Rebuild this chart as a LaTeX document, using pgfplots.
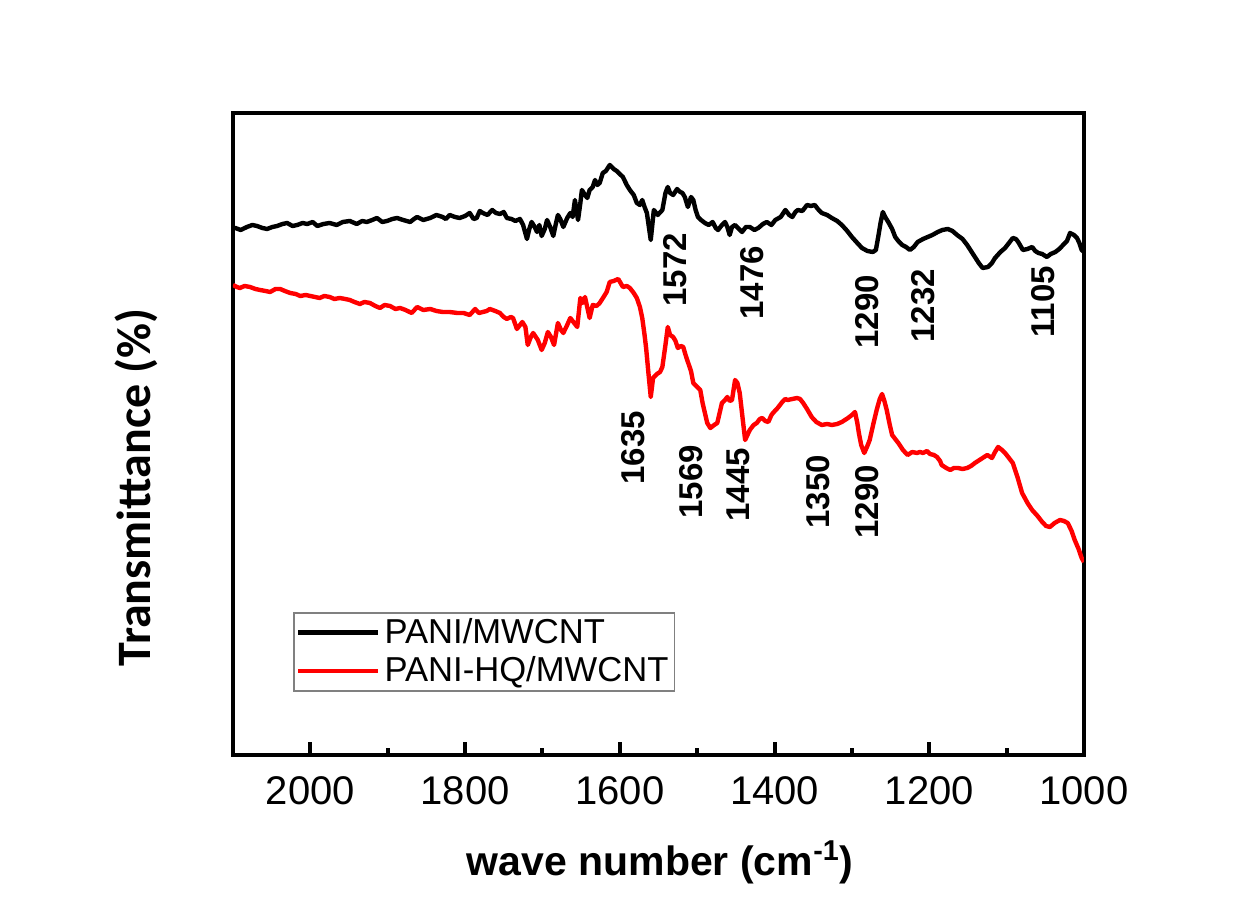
\documentclass[border=0pt]{standalone}
\usepackage{pgfplots}
\pgfplotsset{compat=1.18}
\usepackage{fontspec}
\setmainfont{Liberation Sans}
\newfontfamily\calibri{Carlito}

% FTIR spectra (transmittance, arbitrary offset units)
\pgfplotstableread{
wn y
2100 527
2097 527
2090 525
2082 528
2075 530
2069 529
2062 527
2056 526
2049 528
2043 529
2036 531
2030 532
2023 529
2017 530
2010 532
2004 531
1997 533
1991 529
1983 531
1975 532
1966 530
1958 533
1949 534
1940 531
1933 534
1927 533
1920 535
1914 537
1907 533
1901 534
1894 536
1888 537
1880 535
1871 533
1866 536
1862 538
1854 535
1845 537
1837 540
1829 538
1825 536
1820 540
1813 538
1807 537
1800 539
1794 542
1789 536
1785 537
1781 544
1777 542
1771 540
1765 545
1760 542
1755 541
1750 543
1746 537
1740 536
1735 534
1729 536
1725 530
1720 516
1717 526
1714 533
1710 528
1707 523
1704 530
1701 519
1697 526
1694 535
1690 528
1686 519
1683 530
1680 540
1677 536
1673 528
1668 537
1664 542
1661 538
1658 555
1654 535
1651 552
1649 565
1645 560
1642 557
1639 565
1635 568
1632 575
1629 570
1626 572
1622 582
1618 584
1613 590
1608 586
1604 584
1600 581
1596 578
1591 570
1587 565
1582 560
1578 552
1574 550
1571 555
1568 548
1565 542
1560 515
1556 545
1551 540
1545 545
1541 562
1538 568
1535 562
1531 560
1526 566
1522 563
1519 562
1516 558
1512 548
1508 558
1505 555
1502 545
1499 538
1495 535
1490 532
1485 530
1480 533
1476 527
1473 525
1468 530
1464 533
1461 528
1458 520
1455 528
1451 530
1446 526
1442 523
1437 528
1432 528
1426 525
1421 527
1415 531
1410 533
1404 530
1399 535
1392 538
1386 545
1381 540
1377 538
1373 543
1370 545
1364 544
1358 550
1353 549
1348 550
1344 546
1339 542
1332 540
1326 537
1319 534
1313 530
1306 524
1300 518
1293 512
1287 507
1280 504
1273 503
1269 505
1266 518
1263 532
1260 543
1257 538
1253 533
1248 526
1244 518
1240 514
1235 510
1230 508
1225 505
1220 508
1215 513
1208 516
1202 518
1196 520
1189 523
1183 525
1176 526
1170 524
1164 520
1157 516
1151 510
1146 504
1141 498
1136 492
1131 487
1124 488
1119 492
1115 497
1108 503
1102 507
1097 512
1092 517
1088 516
1085 513
1079 505
1073 506
1067 508
1063 504
1059 502
1054 501
1048 498
1043 501
1037 503
1032 506
1027 510
1022 514
1018 522
1013 520
1009 517
1006 512
1003 505
1000 503
}\pani

\pgfplotstableread{
wn y
2100 470
2095 468
2091 467
2085 469
2078 468
2071 466
2065 465
2058 464
2052 463
2045 466
2039 466
2033 464
2026 462
2019 461
2013 459
2006 460
2000 459
1994 458
1988 457
1982 459
1975 458
1969 456
1962 457
1955 456
1949 455
1943 453
1936 451
1930 453
1923 452
1916 449
1910 447
1904 450
1897 449
1890 446
1884 447
1877 445
1869 442
1862 448
1854 445
1845 446
1837 444
1829 443
1820 443
1810 442
1802 442
1794 440
1787 446
1782 442
1777 443
1772 444
1768 446
1761 444
1755 442
1750 438
1746 436
1741 438
1738 437
1733 426
1726 433
1722 428
1719 410
1715 418
1712 422
1706 415
1701 405
1697 412
1693 423
1689 418
1685 410
1680 432
1676 425
1673 422
1668 430
1664 437
1660 433
1655 428
1651 457
1648 452
1645 458
1639 437
1635 450
1630 449
1626 452
1621 458
1617 463
1613 473
1608 474
1602 476
1599 472
1596 468
1591 469
1587 467
1582 462
1578 457
1574 448
1571 437
1568 420
1566 407
1563 382
1560 358
1557 377
1552 381
1548 383
1545 388
1541 410
1538 428
1535 420
1531 418
1528 414
1525 407
1521 409
1518 408
1515 400
1512 393
1508 384
1505 372
1500 368
1496 365
1493 352
1490 342
1487 332
1483 327
1478 330
1474 332
1471 342
1468 352
1464 355
1461 358
1458 354
1455 355
1451 375
1448 372
1445 362
1441 335
1438 315
1435 320
1432 325
1427 330
1423 332
1419 336
1416 337
1412 334
1408 333
1404 340
1402 342
1396 347
1390 353
1386 356
1383 355
1377 356
1371 357
1367 356
1363 352
1358 346
1352 338
1346 333
1339 330
1332 331
1326 330
1319 331
1313 333
1309 335
1305 337
1300 340
1296 343
1293 332
1291 322
1288 310
1284 302
1280 309
1277 315
1272 332
1268 345
1264 356
1261 361
1258 354
1255 345
1251 330
1248 320
1244 316
1240 312
1234 305
1228 300
1222 303
1216 302
1212 303
1208 302
1203 304
1199 301
1194 300
1190 298
1186 294
1184 290
1178 287
1173 285
1168 287
1163 287
1157 286
1151 287
1146 289
1141 292
1133 296
1125 300
1119 297
1115 303
1111 308
1106 305
1102 302
1097 297
1092 292
1086 278
1080 262
1073 252
1067 245
1060 239
1054 233
1049 229
1044 228
1038 232
1031 235
1026 234
1021 232
1016 224
1012 215
1007 206
1003 197
1000 193
}\panihq

\begin{document}
\begin{tikzpicture}
\path[use as bounding box] (-116.5pt,-71pt) rectangle (505pt,377.5pt);
\begin{axis}[
  at={(0pt,0pt)}, anchor=south west,
  scale only axis, width=425.5pt, height=321pt,
  x dir=reverse, xmin=1000, xmax=2100, ymin=0, ymax=642,
  xtick={1000,1200,...,2000}, minor x tick num=1,
  ytick=\empty, xtick pos=left,
  tick align=inside,
  major tick length=6.5pt, minor tick length=3.5pt,
  every tick/.style={line width=2pt, black},
  axis line style={line width=2.4pt},
  /pgf/number format/assume math mode=true,
  /pgf/number format/1000 sep={},
  tick label style={font=\fontsize{20}{22}\selectfont},
  xticklabel style={yshift=-7.5pt},
  xlabel={\textbf{wave number (cm\textsuperscript{-1})}},
  xlabel style={font=\fontsize{20.5}{23}\selectfont, at={(axis description cs:0.502,-0.1667)}, anchor=center},
  ylabel={\calibri\bfseries Transmittance (\%)},
  ylabel style={font=\fontsize{24}{26}\selectfont, at={(axis description cs:-0.1134,0.4167)}, anchor=center},
  legend cell align=left,
  legend style={at={(0.0705,0.2227)}, anchor=north west, draw=gray, line width=0.8pt,
    font=\fontsize{17.3}{19}\selectfont, inner xsep=1pt, inner ysep=1pt, row sep=1pt},
  legend image code/.code={\draw[#1, line width=2.4pt] (0pt,0pt) -- (40pt,0pt);},
]
\addplot[black, line width=2.2pt, line join=round] table[x=wn, y=y] {\pani};
\addlegendentry{PANI/MWCNT}
\addplot[red, line width=2.2pt, line join=round] table[x=wn, y=y] {\panihq};
\addlegendentry{PANI-HQ/MWCNT}

% band assignments
\begin{scope}[every node/.style={rotate=90, anchor=center, font=\bfseries\fontsize{16.5}{18}\selectfont}]
\node at (axis cs:1529,485) {1572};
\node at (axis cs:1429,472) {1476};
\node at (axis cs:1280,443) {1290};
\node at (axis cs:1208,449) {1232};
\node at (axis cs:1053,453) {1105};
\node at (axis cs:1583,307) {1635};
\node at (axis cs:1508,273) {1569};
\node at (axis cs:1447,270) {1445};
\node at (axis cs:1344,263) {1350};
\node at (axis cs:1280,253) {1290};
\end{scope}
\end{axis}
\end{tikzpicture}
\end{document}
